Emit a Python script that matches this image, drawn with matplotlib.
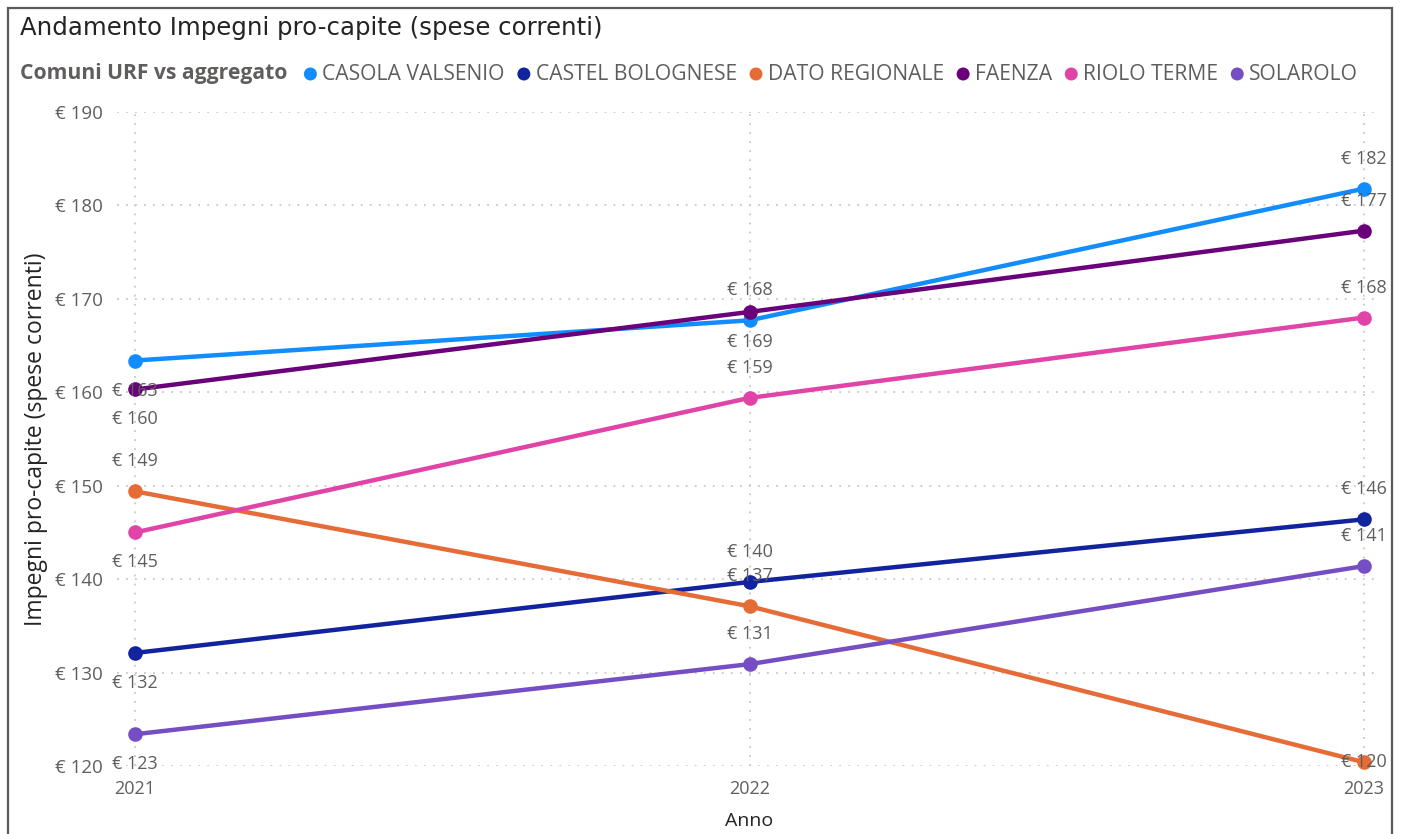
import matplotlib
matplotlib.use("Agg")
import matplotlib.pyplot as plt
from matplotlib.patches import Rectangle, Circle

# ---------------- data ----------------
years = [2021, 2022, 2023]
series_names = ["CASOLA VALSENIO", "CASTEL BOLOGNESE", "DATO REGIONALE",
                "FAENZA", "RIOLO TERME", "SOLAROLO"]
casola_valsenio = [163.4, 167.7, 181.8]
castel_bolognese = [132.1, 139.7, 146.4]
dato_regionale = [149.4, 137.1, 120.4]
faenza = [160.3, 168.6, 177.3]
riolo_terme = [145.0, 159.4, 168.0]
solarolo = [123.4, 130.9, 141.4]
y_ticks = [120, 130, 140, 150, 160, 170, 180, 190]
x_tick_labels = ["2021", "2022", "2023"]

title = "Andamento Impegni pro-capite (spese correnti)"
legend_title = "Comuni URF vs aggregato"
x_label = "Anno"
y_label = "Impegni pro-capite (spese correnti)"

# ---------------- style ----------------
colors = ["#118DFF", "#12239E", "#E66C37", "#6B007B", "#E044A7", "#744EC2"]
# label placement per point: a = above, b = below, c = centered
label_pos = [["b", "a", "a"],
             ["b", "a", "a"],
             ["a", "a", "c"],
             ["b", "b", "a"],
             ["b", "a", "a"],
             ["b", "a", "a"]]
all_values = [casola_valsenio, castel_bolognese, dato_regionale,
              faenza, riolo_terme, solarolo]

FONT = "Open Sans"
TXT = "#605E5C"
W, H = 1402, 834
fig = plt.figure(figsize=(W / 100, H / 100), dpi=100)
fig.patch.set_facecolor("white")

# visual border
fig.patches.append(Rectangle((8 / W, -0.05), (1392 - 8) / W, (834 - 8) / H + 0.05,
                             transform=fig.transFigure, fill=False,
                             edgecolor="#5A5A5A", linewidth=1.6))

ax = fig.add_axes([117 / W, 1 - 766 / H, (1381 - 117) / W, (766 - 112) / H])
ax.set_facecolor("none")
for s in ax.spines.values():
    s.set_visible(False)

ax.set_xlim(2021 - 18 / 614.5, 2023 + 17 / 614.5)
ax.set_ylim(120, 190)

grid_kw = dict(color="#C8C8C8", linewidth=1.3, linestyle=(0, (1, 4)), zorder=0)
for yv in y_ticks:
    ax.axhline(yv, **grid_kw)
for xv in years:
    ax.axvline(xv, **grid_kw)

for name, vals, col, pos in zip(series_names, all_values, colors, label_pos):
    ax.plot(years, vals, color=col, linewidth=3.2, marker="o", markersize=9.5,
            solid_capstyle="round", zorder=3, clip_on=False)
    for x, v, p in zip(years, vals, pos):
        off = {"a": 30, "b": -30, "c": 0}[p]
        ax.annotate(f"€ {v:.0f}", (x, v), xytext=(0, off), textcoords="offset pixels",
                    ha="center", va="center", fontsize=13, color=TXT,
                    family=FONT, zorder=5)

ax.set_yticks(y_ticks)
ax.set_yticklabels([f"€ {t}" for t in y_ticks])
ax.set_xticks(years)
ax.set_xticklabels(x_tick_labels)
ax.tick_params(axis="both", length=0, labelcolor=TXT)
ax.tick_params(axis="y", pad=10, labelsize=13.5)
ax.tick_params(axis="x", pad=10, labelsize=13)
for lab in ax.get_xticklabels() + ax.get_yticklabels():
    lab.set_family(FONT)

ax.set_xlabel(x_label, fontsize=14, color="#252423", family=FONT, labelpad=10)
ax.set_ylabel(y_label, fontsize=16.5, color="#252423", family=FONT, labelpad=5)

# title
fig.text(20 / W, 1 - 28 / H, title, fontsize=17.6, color="#252423",
         family="DejaVu Sans", va="center", ha="left")

# legend row
fig.canvas.draw()
renderer = fig.canvas.get_renderer()
ly = 1 - 74 / H
t = fig.text(20 / W, ly, legend_title, fontsize=15.2, color="#605E5C",
             family=FONT, weight="bold", va="center", ha="left")
bb = t.get_window_extent(renderer)
x = bb.x1 + 23
for name, col in zip(series_names, colors):
    fig.patches.append(Circle((x, (1 - 74 / H) * H), 6.5, transform=None,
                              facecolor=col, edgecolor="none"))
    tt = fig.text((x + 12) / W, ly, name, fontsize=15.2, color="#605E5C",
                  family=FONT, va="center", ha="left")
    b2 = tt.get_window_extent(renderer)
    x = b2.x1 + 19

fig.savefig("out.png", dpi=100, facecolor="white")
